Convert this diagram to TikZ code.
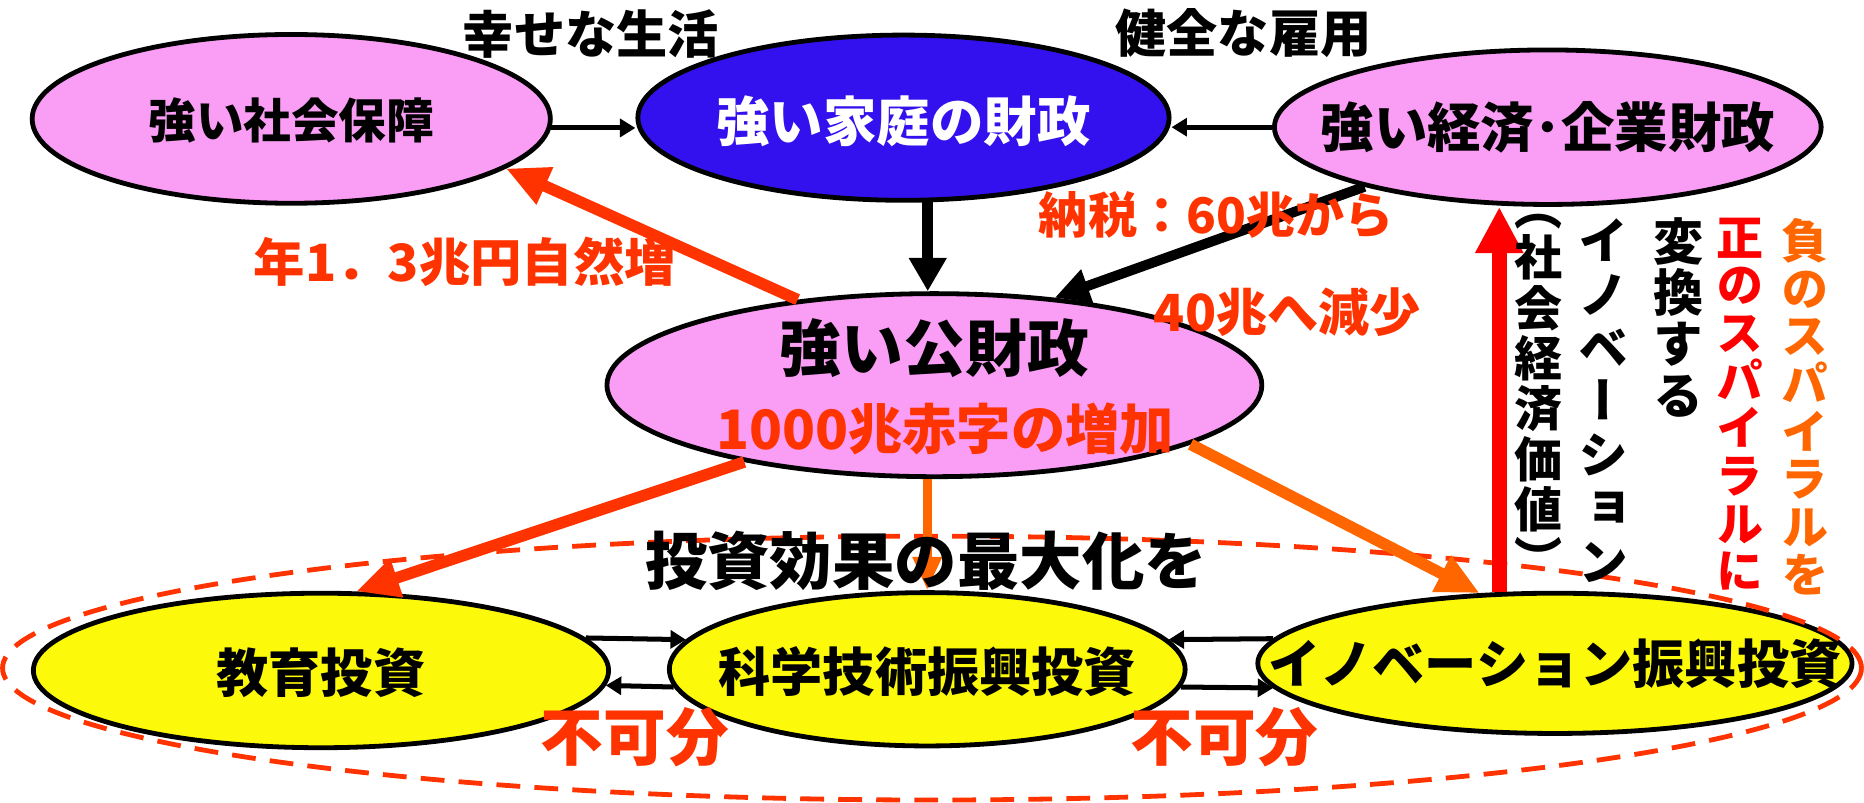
\documentclass[tikz,border=0pt]{standalone}
\usepackage{fontspec}
\setmainfont{Noto Sans CJK JP}[BoldFont={* Black}]
\newfontfamily\vjp{Noto Sans CJK JP}[BoldFont={* Black},RawFeature=+vert]
\usetikzlibrary{shapes.geometric,arrows.meta}
\definecolor{pinkf}{RGB}{250,158,245}
\definecolor{bluef}{RGB}{51,17,238}
\definecolor{yellowf}{RGB}{252,250,10}
\definecolor{orred}{RGB}{255,51,0}
\definecolor{orng}{RGB}{255,102,0}
\definecolor{redd}{RGB}{255,0,0}
\newcommand\hfs[1]{\fontsize{#1}{#1}\selectfont\bfseries}
\newcommand\vfs[2]{\vjp\fontsize{#1}{#2}\selectfont\bfseries\lineskip=0pt\lineskiplimit=-20pt}
\begin{document}
\begin{tikzpicture}[x=0.02cm,y=-0.02cm,
  ell/.style={ellipse,draw=black,line width=2.3pt,inner sep=0pt},
  lbl/.style={inner sep=0pt},
  thinarr/.style={line width=2.4pt,-{Triangle[length=0.26cm,width=0.3cm]}},
  blkarr/.style={line width=4.8pt,-{Triangle[length=0.58cm,width=0.56cm]}},
  redarr/.style={line width=5.5pt,-{Triangle[length=0.72cm,width=0.64cm]}}]
\useasboundingbox (0,0) rectangle (1568,675);
% ellipses
\node[ell,fill=pinkf,minimum width=8.72cm,minimum height=2.84cm] (ss) at (245,100) {};
\node[ell,fill=bluef,minimum width=8.94cm,minimum height=2.78cm] (kt) at (760,99) {};
\node[ell,fill=pinkf,minimum width=9.2cm,minimum height=2.6cm] (ke) at (1302,107) {};
\node[ell,fill=pinkf,minimum width=11.02cm,minimum height=3.08cm] (kz) at (786,324) {};
\node[ell,fill=yellowf,minimum width=9.68cm,minimum height=2.6cm] (edu) at (270,564) {};
\node[ell,fill=yellowf,minimum width=8.68cm,minimum height=2.58cm] (sci) at (780,563) {};
\node[ell,fill=yellowf,minimum width=10cm,minimum height=2.36cm] (inn) at (1308,558) {};
% dashed enclosure
\draw[orred,line width=2.3pt,dash pattern=on 11.4pt off 6.8pt] (784,562) ellipse [x radius=15.64cm, y radius=2.22cm];
% arrows
\draw[thinarr] (ss.-2) -- (ss.-2 -| kt.west);
\draw[thinarr] (ke.west) -- (ke.west -| kt.east);
\draw[line width=5.4pt,-{Triangle[length=0.56cm,width=0.6cm]}] (kt.-74) -- (kt.-74 |- kz.north);
\draw[blkarr] (ke.198) -- (kz.36);
\draw[redarr,orred] (kz.148) -- (ss.-13);
\draw[redarr,orred] (kz.202) -- (edu.66);
\draw[orng,line width=4.5pt,-{Triangle[length=0.56cm,width=0.46cm]}] (kz.south -| sci.north) -- (sci.north);
\draw[redarr,orng] (kz.-13) -- (inn.137);
\draw[redd,line width=7pt,-{Triangle[length=0.78cm,width=0.76cm]}] (inn.128) -- (inn.128 |- ke.south);
\draw[thinarr] (edu.7) -- (sci.173);
\draw[thinarr] (sci.184) -- (edu.-3);
\draw[thinarr] (inn.175) -- (sci.7);
\draw[thinarr] (sci.-4) -- (inn.185);
% ellipse texts
\node[lbl,font=\hfs{22.8}] (sst) at ([yshift=-0.02cm]ss.center) {強い社会保障};
\node[lbl,font=\hfs{25.6},text=white] (ktt) at ([yshift=-0.06cm]kt.center) {強い家庭の財政};
\node[lbl,font=\hfs{25.6}] (ket) at (ke.center) {強い経済･企業財政};
\node[lbl,font=\hfs{25}] (edut) at ([yshift=-0.04cm]edu.center) {教育投資};
\node[lbl,font=\hfs{25}] (scit) at ([yshift=-0.04cm]sci.center) {科学技術振興投資};
\node[lbl,font=\hfs{25}] (innt) at (inn.center) {イノベーション振興投資};
% labels
\node[lbl,font=\hfs{24.5}] (l1) at (497,29) {幸せな生活};
\node[lbl,font=\hfs{24.5}] (l2) at (1046,28) {健全な雇用};
\node[lbl,font=\hfs{24.6},text=orred] (l3) at (391,220) {年1．3兆円自然増};
\node[lbl,font=\hfs{23.5},text=orred] (l4) at (1023,181) {納税：60兆から};
\node[lbl,font=\hfs{24.5},text=orred] (l5) at (1083,263) {40兆へ減少};
\node[lbl,font=\hfs{29.6}] (kzt1) at (786,293) {強い公財政};
\node[lbl,font=\hfs{26},text=orred] (kzt2) at (795,361) {1000兆赤字の増加};
\node[lbl,font=\hfs{29.9}] (l6) at (779,472) {投資効果の最大化を};
\node[lbl,font=\hfs{30},text=orred] (l7) at (534,620) {不可分};
\node[lbl,font=\hfs{30},text=orred] (l8) at (1030,620) {不可分};
% vertical texts
\node[lbl,align=center,font=\vfs{23}{24.1}] (v1) at (1294,333) {（\\社\\会\\経\\済\\価\\値\\）};
\node[lbl,align=center,font=\vfs{24}{25.6}] (v2) at (1349,337) {イ\\ノ\\ベ\\ー\\シ\\ョ\\ン};
\node[lbl,align=center,font=\vfs{24}{24.5}] (v3) at (1412,267) {変\\換\\す\\る};
\node[lbl,align=center,font=\vfs{22.5}{22.8},text=redd] (v4) at (1464,340) {正\\の\\ス\\パ\\イ\\ラ\\ル\\に};
\node[lbl,align=center,font=\vfs{22.5}{22.8},text=orng] (v5) at (1518,342) {負\\の\\ス\\パ\\イ\\ラ\\ル\\を};
\end{tikzpicture}
\end{document}
